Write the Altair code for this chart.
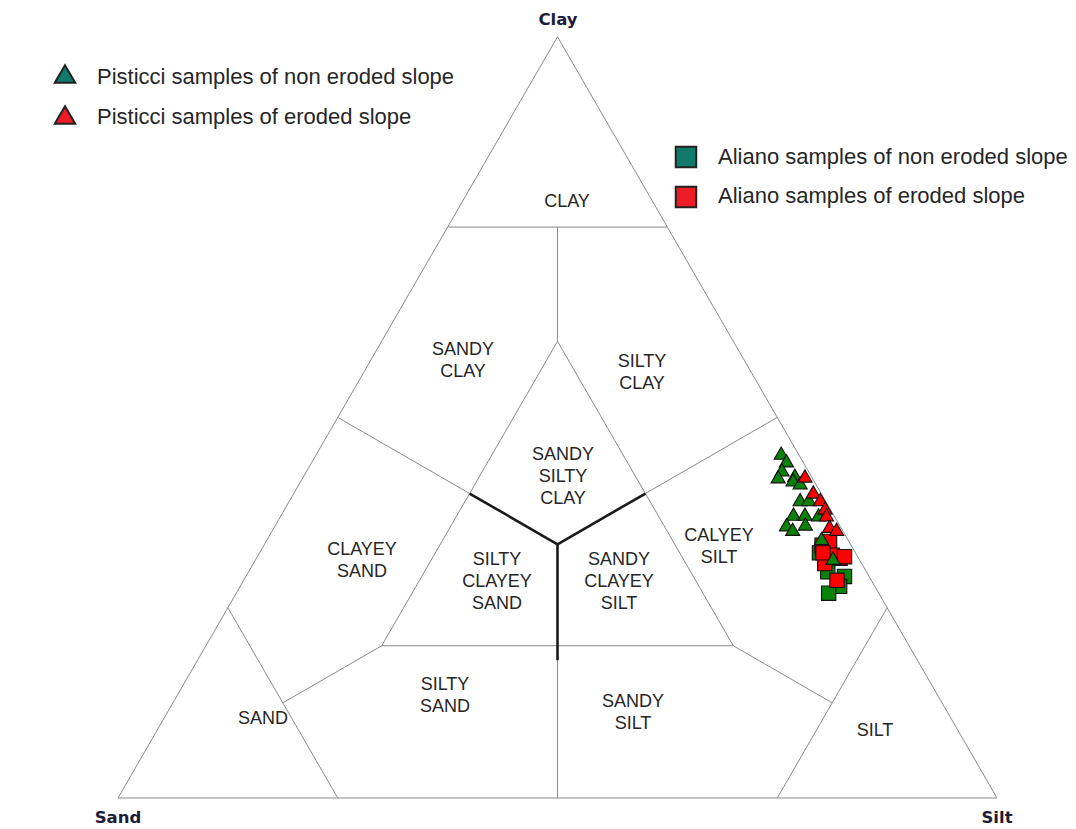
import math
import altair as alt
import pandas as pd

# ---- Sample compositions (percent clay, percent sand; silt = 100 - clay - sand) ----
pist_non_clay = [45.3, 44.3, 43.1, 42.2, 42.4, 41.8, 41.4, 39.2, 39.2, 37.3, 37.3, 37.2, 35.9, 35.3, 36.0, 34.1, 31.5]
pist_non_sand = [1.9, 1.8, 2.9, 3.8, 1.8, 2.3, 1.7, 2.8, 1.8, 4.5, 3.2, 1.7, 6.0, 5.6, 3.8, 2.9, 2.9]

pist_ero_clay = [42.3, 40.2, 39.2, 38.1, 37.2, 35.7, 35.3]
pist_ero_sand = [0.7, 0.8, 0.5, 0.5, 0.8, 1.2, 0.6]

ali_non_clay = [32.2, 29.7, 29.1, 27.8, 26.9, 32.9]
ali_non_sand = [4.1, 4.4, 2.8, 4.0, 5.7, 3.4]

ali_ero_clay = [33.2, 33.7, 31.5, 31.9, 30.8, 28.6, 31.7, 32.2]
ali_ero_sand = [3.3, 2.2, 2.1, 2.8, 4.2, 3.9, 1.5, 3.7]

# ---- Shepard classification boundaries, as (clay, silt) end points ----
thin_segments = [
    ((0, 0), (0, 100)), ((0, 100), (100, 0)), ((100, 0), (0, 0)),
    ((75, 0), (75, 25)),
    ((25, 0), (0, 25)),
    ((25, 75), (0, 75)),
    ((60, 20), (20, 20)), ((20, 20), (20, 60)), ((20, 60), (60, 20)),
    ((75, 12.5), (60, 20)),
    ((50, 0), (40, 20)),
    ((50, 50), (40, 40)),
    ((12.5, 12.5), (20, 20)),
    ((12.5, 75), (20, 60)),
    ((0, 50), (20, 40)),
]
thick_segments = [
    ((100 / 3, 100 / 3), (40, 20)),
    ((100 / 3, 100 / 3), (40, 40)),
    ((100 / 3, 100 / 3), (18.1, 40.95)),
]

region_names = ["CLAY", "SANDY\nCLAY", "SILTY\nCLAY", "SANDY\nSILTY\nCLAY", "CLAYEY\nSAND",
                "SILTY\nCLAYEY\nSAND", "SANDY\nCLAYEY\nSILT", "CALYEY\nSILT", "SILTY\nSAND",
                "SANDY\nSILT", "SAND", "SILT"]
vertex_names = ["Clay", "Sand", "Silt"]
legend_names = ["Pisticci samples of non eroded slope", "Pisticci samples of eroded slope",
                "Aliano samples of non eroded slope", "Aliano samples of eroded slope"]

W, H = 1076, 829
X0, Y0, S = 118.0, 798.0, 8.79   # page position of the Sand corner and pixels per unit
R3 = math.sqrt(3) / 2


def to_xy(clay, silt):
    return silt + clay / 2.0, clay * R3


xs = alt.Scale(domain=[-X0 / S, (W - X0) / S], range=[0, W], nice=False, zero=False)
ys = alt.Scale(domain=[(Y0 - H) / S, Y0 / S], range=[H, 0], nice=False, zero=False)


def seg_frame(segs):
    rows = []
    for (c1, s1), (c2, s2) in segs:
        x1, y1 = to_xy(c1, s1)
        x2, y2 = to_xy(c2, s2)
        rows.append(dict(x=x1, y=y1, x2=x2, y2=y2))
    return pd.DataFrame(rows)


def pts(clay, sand):
    rows = []
    for c, sd in zip(clay, sand):
        x, y = to_xy(c, 100 - c - sd)
        rows.append(dict(clay=c, sand=sd, silt=100 - c - sd, x=x, y=y))
    return pd.DataFrame(rows)


enc = dict(x=alt.X("x:Q", scale=xs, axis=None), y=alt.Y("y:Q", scale=ys, axis=None))

thin = alt.Chart(seg_frame(thin_segments)).mark_rule(color="#8a8a8a", strokeWidth=1).encode(
    x2="x2:Q", y2="y2:Q", **enc)
thick = alt.Chart(seg_frame(thick_segments)).mark_rule(color="#1a1a1a", strokeWidth=2.6).encode(
    x2="x2:Q", y2="y2:Q", **enc)


def marker(df, shape, fill, size):
    return alt.Chart(df).mark_point(shape=shape, filled=True, fill=fill, stroke="#111111",
                                    strokeWidth=1.1, size=size, opacity=1).encode(**enc)


markers = [
    marker(pts(ali_non_clay, ali_non_sand), "square", "#0a820a", 205),
    marker(pts(ali_ero_clay, ali_ero_sand), "square", "#ff0000", 205),
    marker(pts(pist_non_clay, pist_non_sand), "triangle-up", "#0a820a", 200),
    marker(pts(pist_ero_clay, pist_ero_sand), "triangle-up", "#ff0000", 200),
]

# ---- Text placement on the page (pixels) ----
region_px = [(567, 202), (463, 361), (642, 373), (563, 477), (362, 561), (497, 582),
             (619, 582), (719, 547), (445, 696), (633, 713), (263, 719), (875, 731)]
region_df = pd.DataFrame(dict(label=region_names,
                              px=[p[0] for p in region_px],
                              py=[p[1] - 11 * n.count("\n") for p, n in zip(region_px, region_names)]))
regions = alt.Chart(region_df).mark_text(fontSize=18, font="Liberation Sans", color="#262626",
                                         lineBreak="\n", lineHeight=22, baseline="middle").encode(
    x=alt.X("px:Q", scale=None), y=alt.Y("py:Q", scale=None), text="label:N")

vertex_df = pd.DataFrame(dict(label=vertex_names, px=[558, 118, 997], py=[20, 818, 818]))
vertices = alt.Chart(vertex_df).mark_text(fontSize=16.5, font="DejaVu Sans", fontWeight="bold",
                                          color="#1c1c38", baseline="middle").encode(
    x=alt.X("px:Q", scale=None), y=alt.Y("py:Q", scale=None), text="label:N")

leg_df = pd.DataFrame(dict(label=legend_names,
                           sx=[65, 65, 686, 686], sy=[74, 115, 157, 197],
                           tx=[97, 97, 718, 718], ty=[77, 117, 157, 196],
                           shape=["triangle-up", "triangle-up", "square", "square"],
                           fill=["#127a6b", "#ee1c24", "#127a6b", "#ee1c24"]))
leg_sym = alt.Chart(leg_df).mark_point(filled=True, stroke="#222222", strokeWidth=2,
                                       size=420, opacity=1).encode(
    x=alt.X("sx:Q", scale=None), y=alt.Y("sy:Q", scale=None),
    shape=alt.Shape("shape:N", scale=None, legend=None),
    fill=alt.Fill("fill:N", scale=None, legend=None))
leg_txt = alt.Chart(leg_df).mark_text(fontSize=22, font="Liberation Sans", color="#262626",
                                      align="left", baseline="middle").encode(
    x=alt.X("tx:Q", scale=None), y=alt.Y("ty:Q", scale=None), text="label:N")

chart = alt.layer(thin, thick, *markers, regions, vertices, leg_sym, leg_txt).properties(
    width=W, height=H, autosize=alt.AutoSizeParams(type="none"), padding=0,
    background="white").configure_view(stroke=None)

chart.save("out.html", embed_options={"renderer": "svg", "actions": False})
